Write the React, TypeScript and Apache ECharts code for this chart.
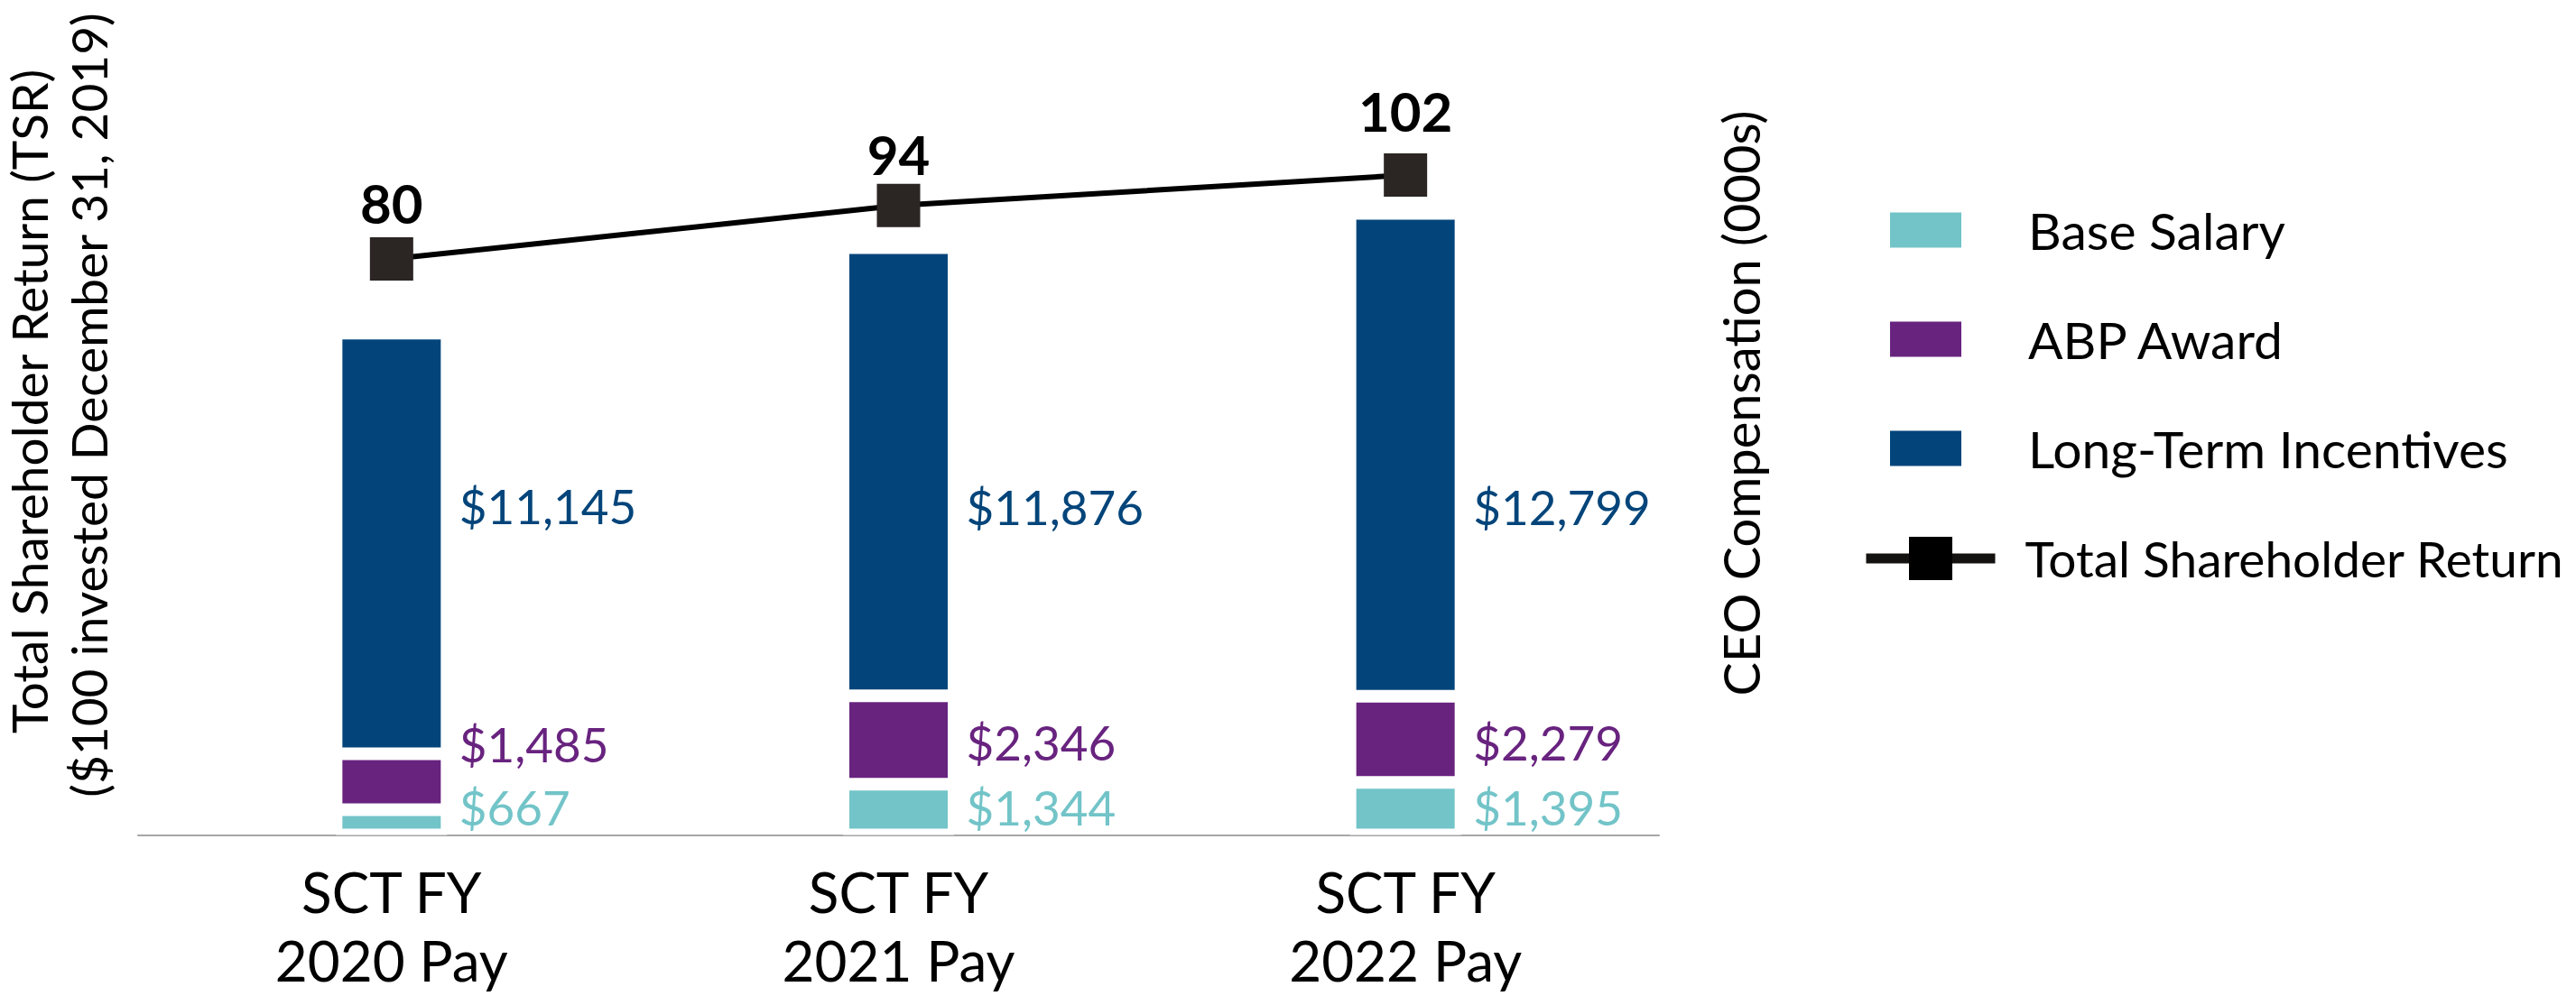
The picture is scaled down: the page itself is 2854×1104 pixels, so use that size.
import React, { useEffect, useRef } from "react";
import * as echarts from "echarts";

const categories = ["SCT FY\n2020 Pay", "SCT FY\n2021 Pay", "SCT FY\n2022 Pay"];
const seriesNames = ["Base Salary", "ABP Award", "Long-Term Incentives", "Total Shareholder Return"];
const baseSalary = [667, 1344, 1395];
const abpAward = [1485, 2346, 2279];
const longTermIncentives = [11145, 11876, 12799];
const tsr = [80, 94, 102];
const leftTitleLines = ["Total Shareholder Return (TSR)", "($100 invested December 31, 2019)"];
const rightTitle = "CEO Compensation (000s)";

// label placement (style only): vertical offsets in px per bar
const salaryLabelDy = [-17, -3, -2];
const abpLabelDy = [-42, 2.3, 3];
const ltiLabelDy = [-42, 38.7, 57.3];
const tsrLabelDy = [0, 5, -9];

const COLORS = {
  salary: "#72C4C8",
  abp: "#68237F",
  lti: "#03457A",
  marker: "#2B2523",
  line: "#000000",
};
const FONT = "Lato";

const money = (v: number) => "$" + v.toLocaleString("en-US");

function barSeries(name: string, values: number[], dys: number[], color: string) {
  return {
    name,
    type: "bar",
    stack: "comp",
    barWidth: 123,
    itemStyle: { color, borderColor: "#ffffff", borderWidth: 7 },
    label: {
      show: true,
      position: "right",
      distance: 13.5,
      color,
      fontFamily: FONT,
      fontSize: 53,
      lineHeight: 56,
      formatter: (p: any) => money(p.value),
    },
    data: values.map((v, i) => ({ value: v, label: { offset: [0, dys[i]] } })),
  };
}

function vText(text: string, x: number, y: number, fontSize: number) {
  return {
    type: "text",
    x,
    y,
    rotation: Math.PI / 2,
    style: {
      text,
      fill: "#000000",
      fontFamily: FONT,
      fontSize,
      lineHeight: 50,
      textAlign: "center",
      textVerticalAlign: "middle",
    },
  };
}

export default function App() {
  const ref = useRef<HTMLDivElement>(null);
  useEffect(() => {
    if (!ref.current) return;
    const chart = echarts.init(ref.current, null, { renderer: "svg" });
    chart.setOption({
      animation: false,
      backgroundColor: "#ffffff",
      textStyle: { fontFamily: FONT },
      grid: { left: 153, right: 1016, top: 94, bottom: 178.5, containLabel: false },
      xAxis: {
        type: "category",
        data: categories,
        axisLine: { show: true, lineStyle: { color: "#A6A6A6", width: 2 } },
        axisTick: { show: false },
        axisLabel: {
          margin: 24,
          color: "#000000",
          fontFamily: FONT,
          fontSize: 62,
          lineHeight: 76,
        },
      },
      yAxis: [
        { type: "value", min: 0, max: 19880, show: false },
        { type: "value", min: -71.05, max: 125.66, show: false },
      ],
      legend: [
        {
          data: seriesNames.slice(0, 3),
          orient: "vertical",
          left: 2094,
          top: 225,
          padding: 0,
          itemWidth: 79,
          itemHeight: 39,
          itemGap: 61,
          icon: "rect",
          itemStyle: { borderWidth: 0 },
          selectedMode: false,
          textStyle: {
            color: "#000000",
            fontFamily: FONT,
            fontSize: 57,
            lineHeight: 60,
            padding: [0, 0, 0, 69],
          },
        },
        {
          data: [seriesNames[3]],
          orient: "vertical",
          left: 2062,
          top: 589,
          padding: 0,
          itemWidth: 143,
          itemHeight: 60,
          selectedMode: false,
          lineStyle: { width: 11, color: "#141210" },
          itemStyle: { color: "#000000" },
          textStyle: {
            color: "#000000",
            fontFamily: FONT,
            fontSize: 55,
            lineHeight: 60,
            padding: [0, 0, 0, 28],
          },
        },
      ],
      graphic: [
        vText(leftTitleLines[0], 32, 445, 55),
        vText(leftTitleLines[1], 98, 449, 55),
        vText(rightTitle, 1928, 447, 56),
      ],
      series: [
        barSeries(seriesNames[0], baseSalary, salaryLabelDy, COLORS.salary),
        barSeries(seriesNames[1], abpAward, abpLabelDy, COLORS.abp),
        barSeries(seriesNames[2], longTermIncentives, ltiLabelDy, COLORS.lti),
        {
          name: seriesNames[3],
          type: "line",
          yAxisIndex: 1,
          symbol: "rect",
          symbolSize: 48,
          z: 5,
          lineStyle: { color: COLORS.line, width: 6 },
          itemStyle: { color: COLORS.marker },
          label: {
            show: true,
            position: "top",
            distance: 8,
            color: "#000000",
            fontFamily: FONT,
            fontWeight: "bold",
            fontSize: 60,
            lineHeight: 60,
          },
          data: tsr.map((v, i) => ({ value: v, label: { offset: [0, tsrLabelDy[i]] } })),
        },
      ],
    });
    return () => chart.dispose();
  }, []);
  return (
    <div
      ref={ref}
      style={{ position: "absolute", left: 0, top: 0, width: 2854, height: 1104 }}
    />
  );
}
